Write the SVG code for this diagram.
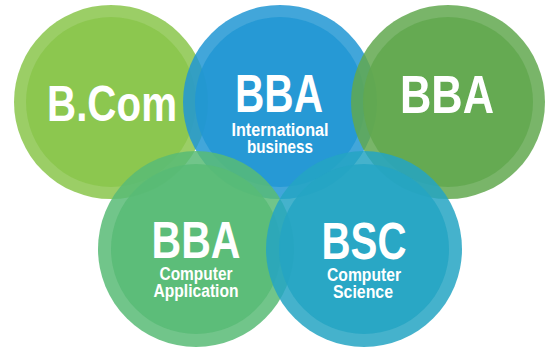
<svg xmlns="http://www.w3.org/2000/svg" width="549" height="347" viewBox="0 0 549 347">
<style>
.o{fill-opacity:0.85}
.i{fill-opacity:0.85}
.t{font-family:"Liberation Sans",Arial,sans-serif;font-weight:bold;fill:#fff;text-anchor:middle}
.big{font-size:54px}
.sm{font-size:18px}
</style>
<rect width="549" height="347" fill="#fff"/>
<g id="bcom">
<circle class="o" cx="111" cy="102" r="97" fill="#8AC54B"/>
<circle class="i" cx="111" cy="102" r="85" fill="#8AC54B"/>
<text class="t" x="112" y="121" font-size="50" textLength="130" lengthAdjust="spacingAndGlyphs">B.Com</text>
</g>
<g id="bba-ib">
<circle class="o" cx="280" cy="102" r="97" fill="#2197D3"/>
<circle class="i" cx="280" cy="102" r="85" fill="#2197D3"/>
<text class="t big" x="279" y="112" textLength="88" lengthAdjust="spacingAndGlyphs">BBA</text>
<text class="t sm" x="280" y="136" textLength="97" lengthAdjust="spacingAndGlyphs">International</text>
<text class="t sm" x="280" y="153" textLength="66" lengthAdjust="spacingAndGlyphs">business</text>
</g>
<g id="bba">
<circle class="o" cx="448" cy="102" r="97" fill="#62A84F"/>
<circle class="i" cx="448" cy="102" r="85" fill="#62A84F"/>
<text class="t big" x="447" y="113" textLength="94" lengthAdjust="spacingAndGlyphs">BBA</text>
</g>
<g id="bba-ca">
<circle class="o" cx="196" cy="249" r="98" fill="#58BB75"/>
<circle class="i" cx="196" cy="249" r="85" fill="#58BB75"/>
<text class="t" x="196" y="258" font-size="51" textLength="89" lengthAdjust="spacingAndGlyphs">BBA</text>
<text class="t sm" x="196" y="280" textLength="73" lengthAdjust="spacingAndGlyphs">Computer</text>
<text class="t sm" x="196" y="297" textLength="85" lengthAdjust="spacingAndGlyphs">Application</text>
</g>
<g id="bsc-cs">
<circle class="o" cx="364" cy="249" r="98" fill="#24A5C3"/>
<circle class="i" cx="364" cy="249" r="85" fill="#24A5C3"/>
<text class="t" x="364" y="259" font-size="51" textLength="85" lengthAdjust="spacingAndGlyphs">BSC</text>
<text class="t sm" x="364" y="281" textLength="74" lengthAdjust="spacingAndGlyphs">Computer</text>
<text class="t sm" x="363" y="298" textLength="60" lengthAdjust="spacingAndGlyphs">Science</text>
</g>
<g id="connectors"/>
</svg>
